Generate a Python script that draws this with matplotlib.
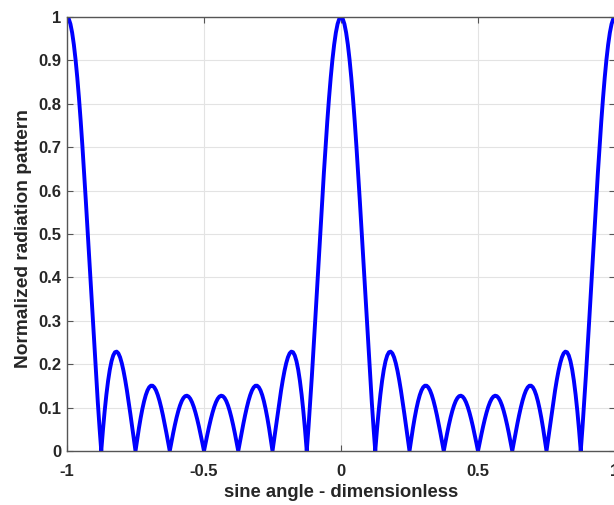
import numpy as np
import matplotlib
matplotlib.use("Agg")
import matplotlib.pyplot as plt

# sine angle samples (step 1/160) and normalized pattern values
u = np.arange(-160, 161) / 160.0
half = [1.0, 0.99593, 0.98389, 0.96395, 0.93646, 0.90177, 0.86039, 0.81289, 0.75995, 0.70230,
        0.64073, 0.57608, 0.50924, 0.44112, 0.37256, 0.30449, 0.23777, 0.17321, 0.11160, 0.05365,
        0.0, 0.04879, 0.09226, 0.13003, 0.16184, 0.18750, 0.20697, 0.22026, 0.22753, 0.22900,
        0.22499, 0.21592, 0.20225, 0.18453, 0.16335, 0.13933, 0.11313, 0.08544, 0.05691, 0.02822,
        0.0, 0.02713, 0.05260, 0.07592, 0.09662, 0.11434, 0.12877, 0.13968, 0.14695, 0.15047,
        0.15034, 0.14656, 0.13943, 0.12904, 0.11590, 0.10017, 0.08246, 0.06307, 0.04253, 0.02134,
        0.0, 0.02100, 0.04117, 0.06006, 0.07725, 0.09237, 0.10507, 0.11511, 0.12226, 0.12640,
        0.12745, 0.12541, 0.12036, 0.11244, 0.10183, 0.08882, 0.07370, 0.05685, 0.03866, 0.01956,
        0.0]
pattern_pos = half + half[-2::-1]           # u = 0 .. 1
pattern = pattern_pos[:0:-1] + pattern_pos  # u = -1 .. 1

xticks = [-1, -0.5, 0, 0.5, 1]
xtick_labels = ["-1", "-0.5", "0", "0.5", "1"]
yticks = [0, 0.1, 0.2, 0.3, 0.4, 0.5, 0.6, 0.7, 0.8, 0.9, 1]
ytick_labels = ["0", "0.1", "0.2", "0.3", "0.4", "0.5", "0.6", "0.7", "0.8", "0.9", "1"]

plt.rcParams['font.family'] = ['Liberation Sans', 'DejaVu Sans']
fig = plt.figure(figsize=(6.14, 5.05), dpi=100)
W, H = 614, 505
ax = fig.add_axes([67 / W, 1 - 451 / H, (615 - 67) / W, (451 - 17) / H])
ax.plot(u, pattern, color='#0000ff', lw=2.8, solid_joinstyle='round')
ax.set_xlim(-1, 1)
ax.set_ylim(0, 1)
ax.set_xticks(xticks)
ax.set_xticklabels(xtick_labels)
ax.set_yticks(yticks)
ax.set_yticklabels(ytick_labels)
ax.grid(True, color='#e3e3e3', lw=0.8)
ax.set_axisbelow(True)
for s in ax.spines.values():
    s.set_color('#555555')
    s.set_linewidth(1.0)
ax.tick_params(direction='in', length=4, width=0.8, color='#555555',
               top=True, right=True, labelsize=12, labelcolor='#262626')
ax.tick_params(axis='x', pad=9)
ax.tick_params(axis='y', pad=4)
for lab in ax.get_xticklabels() + ax.get_yticklabels():
    lab.set_fontweight('bold')
ax.set_xlabel('sine angle - dimensionless', fontsize=13.3, fontweight='bold', color='#262626')
ax.set_ylabel('Normalized radiation pattern', fontsize=13.8, fontweight='bold', color='#262626')
ax.xaxis.set_label_coords(0.5, -0.076)
ax.yaxis.set_label_coords(-0.064, 0.49)
fig.savefig('out.png', dpi=100)
